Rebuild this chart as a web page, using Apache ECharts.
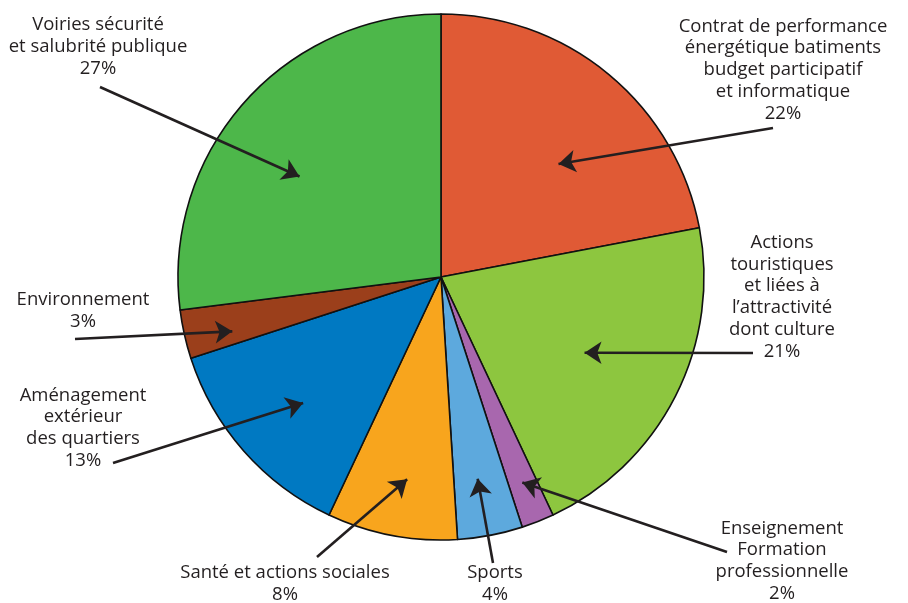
<!DOCTYPE html>
<html>
<head>
<meta charset="utf-8">
<script src="https://cdn.jsdelivr.net/npm/echarts@6/dist/echarts.min.js"></script>
<style>html,body{margin:0;padding:0;background:#fff}#c{width:908px;height:603px}</style>
</head>
<body>
<div id="c"></div>
<script>
// Data (clockwise from 12 o'clock)
const categories = [
  "Contrat de performance\nénergétique batiments\nbudget participatif\net informatique",
  "Actions\ntouristiques\net liées à\nl’attractivité\ndont culture",
  "Enseignement\nFormation\nprofessionnelle",
  "Sports",
  "Santé et actions sociales",
  "Aménagement\nextérieur\ndes quartiers",
  "Environnement",
  "Voiries sécurité\net salubrité publique"
];
const values = [22, 21, 2, 4, 8, 13, 3, 27];
const colors = ["#E05A35", "#8DC63F", "#A867AE", "#5DA9DD", "#F8A51D", "#0079C2", "#9B3F1B", "#4DB74A"];

// Layout (pixels): label centres, arrow tails, arrow-head polar offsets
const CX = 441, CY = 277, R = 263;
const labelPos = [[783, 70], [782, 297], [782, 561], [495, 584], [285, 584], [83, 428], [83, 311], [98, 47]];
const arrowTail = [[773, 128], [753, 353], [727, 552], [493, 563], [317, 557], [113, 463], [75, 339], [100, 87]];
const headAngleOffset = [6.5, 0.8, 0, 0.5, -1.3, -1, -2, -6];
const headRadius = [0.62, 0.617, 0.84, 0.78, 0.78, 0.71, 0.82, 0.66];

const total = values.reduce((a, b) => a + b, 0);
let cum = 0;
const arrows = values.map((v, i) => {
  const mid = (cum + v / 2) / total * 360 + headAngleOffset[i];
  cum += v;
  const a = mid * Math.PI / 180;
  const hx = headRadius[i] * Math.sin(a), hy = headRadius[i] * Math.cos(a);
  const tx = (arrowTail[i][0] - CX) / R, ty = (CY - arrowTail[i][1]) / R;
  return { coords: [[tx, ty], [hx, hy]] };
});

const chart = echarts.init(document.getElementById('c'), null, { renderer: 'canvas' });
chart.setOption({
  animation: false,
  backgroundColor: '#ffffff',
  grid: { left: CX - R, top: CY - R, width: 2 * R, height: 2 * R, show: false },
  xAxis: { type: 'value', min: -1, max: 1, show: false },
  yAxis: { type: 'value', min: -1, max: 1, show: false },
  series: [
    {
      type: 'pie',
      center: [CX, CY],
      radius: [0, R],
      startAngle: 90,
      clockwise: true,
      avoidLabelOverlap: false,
      silent: true,
      itemStyle: { borderColor: '#111', borderWidth: 1.6 },
      data: values.map((v, i) => ({ name: categories[i], value: v, itemStyle: { color: colors[i] } })),
      label: {
        show: true,
        position: 'outside',
        formatter: p => p.name + '\n' + p.value + '%',
        fontFamily: 'Open Sans',
        fontSize: 18.5,
        lineHeight: 21.8,
        color: '#231F20',
        align: 'center'
      },
      labelLine: { show: false },
      labelLayout: p => ({ x: labelPos[p.dataIndex][0], y: labelPos[p.dataIndex][1], align: 'center', verticalAlign: 'middle' })
    },
    {
      type: 'lines',
      coordinateSystem: 'cartesian2d',
      clip: false,
      z: 10,
      silent: true,
      symbol: ['none', 'arrow'],
      symbolSize: [12, 17],
      lineStyle: { color: '#231F20', width: 2.6, opacity: 1 },
      data: arrows
    }
  ]
});
</script>
</body>
</html>
